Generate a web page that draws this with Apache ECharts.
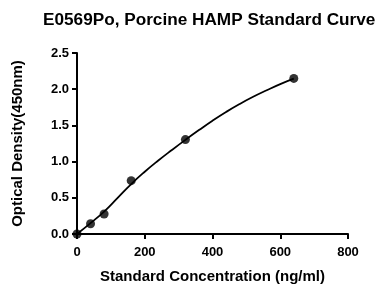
<!DOCTYPE html>
<html>
<head>
<meta charset="utf-8">
<script src="https://cdn.jsdelivr.net/npm/echarts@6/dist/echarts.min.js"></script>
<style>html,body{margin:0;padding:0;background:#fff}#c{width:383px;height:289px}</style>
</head>
<body>
<div id="c"></div>
<script>
// Standard points
var concentrations = [0, 40, 80, 160, 320, 640];
var odValues = [0.0, 0.142, 0.276, 0.737, 1.304, 2.149];
// Fitted curve
var curveX = [0, 40, 80, 120, 160, 200, 240, 280, 320, 360, 400, 440, 480, 520, 560, 600, 640];
var curveY = [0.0, 0.15, 0.31, 0.50, 0.69, 0.86, 1.015, 1.16, 1.30, 1.435, 1.565, 1.685, 1.795, 1.895, 1.985, 2.07, 2.145];
// Ticks
var xTicks = [0, 200, 400, 600, 800];
var yTicks = [0.0, 0.5, 1.0, 1.5, 2.0, 2.5];
var titleText = 'E0569Po, Porcine HAMP Standard Curve';

var font = '"Liberation Sans", Arial, sans-serif';
var chart = echarts.init(document.getElementById('c'));
chart.setOption({
  animation: false,
  backgroundColor: '#fff',
  title: {
    text: titleText,
    left: 43, top: 12, padding: 0,
    textStyle: {fontFamily: font, fontWeight: 'bold', fontSize: 17.2, color: '#000'}
  },
  grid: {left: 77, right: 35, top: 53, bottom: 50},
  xAxis: {
    type: 'value', min: xTicks[0], max: xTicks[xTicks.length - 1], interval: 200,
    name: 'Standard Concentration (ng/ml)', nameLocation: 'middle', nameGap: 35,
    nameTextStyle: {fontFamily: font, fontWeight: 'bold', fontSize: 15, color: '#000'},
    axisLine: {lineStyle: {color: '#000', width: 2}},
    axisTick: {length: 5, lineStyle: {color: '#000', width: 2}},
    axisLabel: {margin: 12, fontFamily: font, fontWeight: 'bold', fontSize: 13, color: '#000'},
    splitLine: {show: false}
  },
  yAxis: {
    type: 'value', min: yTicks[0], max: yTicks[yTicks.length - 1], interval: 0.5,
    name: 'Optical Density(450nm)', nameLocation: 'middle', nameGap: 52,
    nameTextStyle: {fontFamily: font, fontWeight: 'bold', fontSize: 15, color: '#000'},
    axisLine: {show: true, lineStyle: {color: '#000', width: 2}},
    axisTick: {show: true, length: 5, lineStyle: {color: '#000', width: 2}},
    axisLabel: {margin: 8, fontFamily: font, fontWeight: 'bold', fontSize: 13, color: '#000',
      formatter: function (v) { return v.toFixed(1); }},
    splitLine: {show: false}
  },
  series: [
    {
      type: 'line', smooth: true, showSymbol: false, silent: true,
      data: curveX.map(function (x, i) { return [x, curveY[i]]; }),
      lineStyle: {color: '#000', width: 1.8}, z: 2
    },
    {
      type: 'scatter', symbol: 'circle', symbolSize: 9,
      data: concentrations.map(function (x, i) { return [x, odValues[i]]; }),
      itemStyle: {color: '#000'}, z: 3
    }
  ]
});
</script>
</body>
</html>
